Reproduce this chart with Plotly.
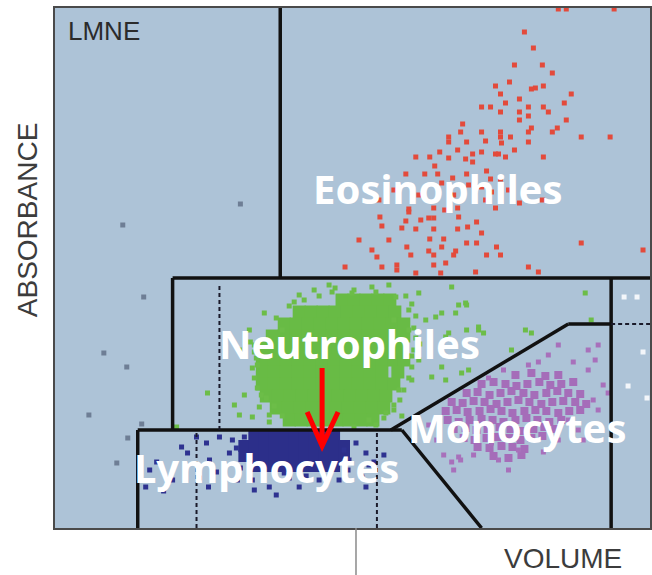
import plotly.graph_objects as go

# ---------------- data (volume = x, absorbance = y, instrument channels) ----------------
eos_x = [505,513,561,471,480,461,489,499,456,442,478,482,490,447,518,466,511,428,437,452,
         475,490,495,447,466,475,513,466,409,504,499,407,428,447,475,478,528,557,395,395,
         413,432,447,457,448,475,386,404,419,428,442,461,362,376,395,412,445,452,490,381,
         419,433,352,371,384,399,413,437,447,388,428,438,466,489,355,355,380,391,404,432,
         442,326,352,367,375,380,405,423,328,348,362,380,404,414,428,376,390,413,423,528,
         318,353,375,388,402,443,590,323,357,380,400,433,447,291,328,343,380,392,475,485,
         343,362,387,422,340,365,415,455,325,400,305,335]
eos_y = [519,519,519,496,480,463,463,455,446,442,439,440,442,434,434,429,425,421,421,425,
         421,421,416,416,416,412,408,408,404,400,396,396,396,396,396,400,391,391,391,386,
         386,387,391,391,385,386,376,378,374,376,374,378,371,371,370,369,374,371,371,362,
         366,357,354,354,354,350,354,349,349,345,341,336,325,328,319,316,320,318,320,328,
         320,311,307,308,310,310,311,306,302,300,299,299,299,301,295,289,289,285,285,285,
         278,281,277,281,277,281,278,271,273,273,273,273,273,261,261,263,263,265,261,256,
         258,255,255,256,338,333,343,338,328,333,288,288]

neu_core = [(288,228),(300,228),(312,228),(324,228),(336,228),
            (245,216),(257,216),(269,216),(281,216),(293,216),(305,216),(317,216),(329,216),(341,216),
            (230,204),(242,204),(254,204),(266,204),(278,204),(290,204),(302,204),(314,204),(326,204),(338,204),(350,204),
            (218,192),(230,192),(242,192),(254,192),(266,192),(278,192),(290,192),(302,192),(314,192),(326,192),(338,192),(350,192),
            (212,180),(224,180),(236,180),(248,180),(260,180),(272,180),(284,180),(296,180),(308,180),(320,180),(332,180),(344,180),
            (208,168),(220,168),(232,168),(244,168),(256,168),(268,168),(280,168),(292,168),(304,168),(316,168),(328,168),(340,168),(350,168),
            (208,156),(220,156),(232,156),(244,156),(256,156),(268,156),(280,156),(292,156),(304,156),(316,156),(328,156),(344,156),
            (208,144),(220,144),(232,144),(244,144),(256,144),(268,144),(280,144),(292,144),(304,144),(316,144),(328,144),(340,144),
            (212,132),(224,132),(236,132),(248,132),(260,132),(272,132),(284,132),(296,132),(308,132),(320,132),(332,132),
            (222,120),(234,120),(246,120),(258,120),(270,120),(282,120),(294,120),(306,120),(318,120),(330,120),
            (235,108),(247,108),(259,108),(271,108),(283,108),(295,108),(307,108),(319,108)]
neu_x = [210,228,153,185,198,205,122,298,318,342,365,398,412,425,430,413,402,382,392,365,
         378,392,408,472,458,532,538,345,332,315,405,413,388,372,395,425,478,388,415,358,
         358,185,195,180,190,245,260,275,335,355,355,360,350,340,200,203,207,215,340,350,
         200,198,202,222,235,250,265,278,300,322,352,358,362,360,362,358,355,346,340,330,
         322,228,220,212,203,200,215,260,300,196,366,348,281,240]
neu_y = [215,198,135,113,111,121,101,235,241,231,235,241,225,201,195,198,215,211,191,168,
         151,148,155,198,178,235,208,138,115,108,223,223,215,208,195,198,195,161,158,161,
         148,178,198,123,133,233,238,243,243,218,198,178,138,123,183,163,133,113,208,183,
         150,160,170,210,222,228,232,236,238,236,232,224,212,200,190,172,150,128,118,110,
         103,112,122,130,140,176,106,102,101,186,184,112,240,226]

lym_core = [(200,91),(210,91),(220,91),(230,91),(240,91),(250,91),(260,91),(270,91),(280,91),
            (190,82),(200,82),(210,82),(220,82),(230,82),(240,82),(250,82),(260,82),(270,82),(280,82),(290,82),
            (190,72),(200,72),(210,72),(220,72),(230,72),(240,72),(250,72),(260,72),(270,72),(280,72),(290,72),
            (200,62),(210,62),(220,62),(230,62),(240,62),(250,62),(260,62),(270,62),(280,62)]
lym_x = [142,127,133,102,91,109,118,145,154,162,175,182,178,190,165,152,222,215,198,183,
         245,265,290,302,312,315,308,312,295,320,95,155,200,235,285,330,186,294,252,230]
lym_y = [91,81,75,66,41,37,48,50,41,56,75,80,88,91,91,85,33,41,48,48,
         41,48,78,85,75,63,51,41,68,66,58,68,38,50,48,73,60,58,52,55]

mono_core = [(462,153),(478,155),(492,152),(505,153),
             (428,144),(440,146),(452,144),(463,142),(474,144),(486,146),(497,143),(508,144),(520,146),
             (413,135),(424,136),(436,133),(447,135),(458,137),(470,135),(481,133),(493,135),(504,137),(515,135),(527,134),
             (398,126),(409,125),(420,127),(431,126),(443,124),(454,126),(465,128),(476,126),(488,124),(499,126),(510,127),(522,126),(533,124),
             (392,117),(403,118),(414,116),(426,117),(437,119),(448,117),(459,115),(471,117),(482,118),(493,117),(505,115),(516,117),(527,118),
             (394,108),(405,106),(416,108),(428,109),(439,108),(450,106),(462,108),(473,110),(484,108),(496,106),(508,108),
             (400,99),(412,100),(423,98),(434,99),(446,101),(457,99),(468,97),(480,99),(491,101),(502,99),
             (410,90),(421,88),(433,90),(444,91),(456,90),(467,88),(478,90),(489,92),
             (424,81),(436,80),(448,82),(459,81),(471,79),
             (440,72),(455,70),(468,73)]
mono_x = [375,383,390,400,407,420,445,455,465,490,505,525,545,550,540,535,520,495,485,505,
          535,545,450,435,475,530,515,555,542,398,405,438]
mono_y = [103,88,73,58,68,73,68,58,78,76,88,98,118,143,128,158,166,173,166,183,
          178,183,158,150,163,88,108,135,168,66,71,85]

stray_x = [186,68,89,49,72,34,87,73,62]
stray_y = [324,303,231,175,161,113,104,90,65]

white_x = [571,584,590,575,594]
white_y = [231,231,176,142,130]

# gate boundaries (start, end) in the same channels
gates_solid = [((226,250),(226,520)), ((118,250),(600,250)), ((118,98),(118,250)),
               ((83,98),(348,98)), ((83,0),(83,98)), ((337,98),(515,204)),
               ((515,204),(558,204)), ((348,98),(428,0)), ((558,0),(558,250))]
gates_dashed = [((558,204),(600,204)), ((165,98),(165,245)), ((142,0),(142,98)), ((323,0),(323,98))]

labels = [("Eosinophiles", 384, 340), ("Neutrophiles", 295, 185),
          ("Monocytes", 464, 101), ("Lymphocytes", 212, 61)]

# ---------------- figure ----------------
fig = go.Figure()

def add_pts(x, y, color, size, opacity=1.0):
    fig.add_trace(go.Scatter(x=x, y=y, mode="markers", hoverinfo="skip",
                             marker=dict(symbol="square", size=size, color=color,
                                         opacity=opacity, line=dict(width=0))))

add_pts(stray_x, stray_y, "#6e7e95", 5)
add_pts(white_x, white_y, "#f3f6fa", 5)
add_pts(eos_x, eos_y, "#e34a3b", 5)
add_pts([p[0] for p in neu_core], [p[1] for p in neu_core], "#68bb45", 13)
add_pts(neu_x, neu_y, "#6cbd48", 5)
add_pts([p[0] for p in mono_core], [p[1] for p in mono_core], "#a56db9", 8)
add_pts(mono_x, mono_y, "#a870bb", 5)
add_pts([p[0] for p in lym_core], [p[1] for p in lym_core], "#2c2f8a", 12)
add_pts(lym_x, lym_y, "#2e3290", 5)

shapes = []
for (x0, y0), (x1, y1) in gates_solid:
    shapes.append(dict(type="line", xref="x", yref="y", x0=x0, y0=y0, x1=x1, y1=y1,
                       line=dict(color="#111111", width=3.5)))
for (x0, y0), (x1, y1) in gates_dashed:
    shapes.append(dict(type="line", xref="x", yref="y", x0=x0, y0=y0, x1=x1, y1=y1,
                       line=dict(color="#1a1a2a", width=2, dash="4px,3px")))
# divider below the axis
shapes.append(dict(type="line", xref="x", yref="paper", x0=302, x1=302, y0=0, y1=-0.1,
                   line=dict(color="#8a8a8a", width=1.5)))
# red arrow
shapes.append(dict(type="path", xref="x", yref="y",
                   path="M268,160 L268,84 M253,116 L268,82 L284,116",
                   line=dict(color="#ff0000", width=5)))

annotations = [
    dict(text="LMNE", xref="x", yref="y", x=11, y=497, xanchor="left", yanchor="middle",
         showarrow=False, font=dict(family="Liberation Sans, Arial", size=26, color="#2b2b2b")),
    dict(text="ABSORBANCE", xref="paper", yref="paper", x=-0.047, y=0.592, textangle=-90,
         xanchor="center", yanchor="middle",
         showarrow=False, font=dict(family="Liberation Sans, Arial", size=28, color="#3c3c3c")),
    dict(text="VOLUME", xref="paper", yref="paper", x=0.854, y=-0.058,
         xanchor="center", yanchor="middle",
         showarrow=False, font=dict(family="Liberation Sans, Arial", size=28, color="#3c3c3c")),
]
for txt, lx, ly in labels:
    annotations.append(dict(text="<b>%s</b>" % txt, xref="x", yref="y", x=lx, y=ly,
                            showarrow=False, xanchor="center", yanchor="middle",
                            font=dict(family="Noto Sans, Liberation Sans", size=40, color="white")))

fig.update_layout(
    width=652, height=575,
    margin=dict(l=55, r=0, t=8, b=47),
    paper_bgcolor="white", plot_bgcolor="#adc3d7",
    showlegend=False,
    shapes=shapes, annotations=annotations,
    xaxis=dict(range=[0, 597], showgrid=False, zeroline=False, showticklabels=False, ticks="",
               showline=True, mirror=True, linecolor="#4a4a4a", linewidth=1.5),
    yaxis=dict(range=[0, 520], showgrid=False, zeroline=False, showticklabels=False, ticks="",
               showline=True, mirror=True, linecolor="#4a4a4a", linewidth=1.5),
)

fig.write_html("out.html", config={"displayModeBar": False},
               post_script="document.body.style.margin='0';document.body.style.overflow='hidden';")
